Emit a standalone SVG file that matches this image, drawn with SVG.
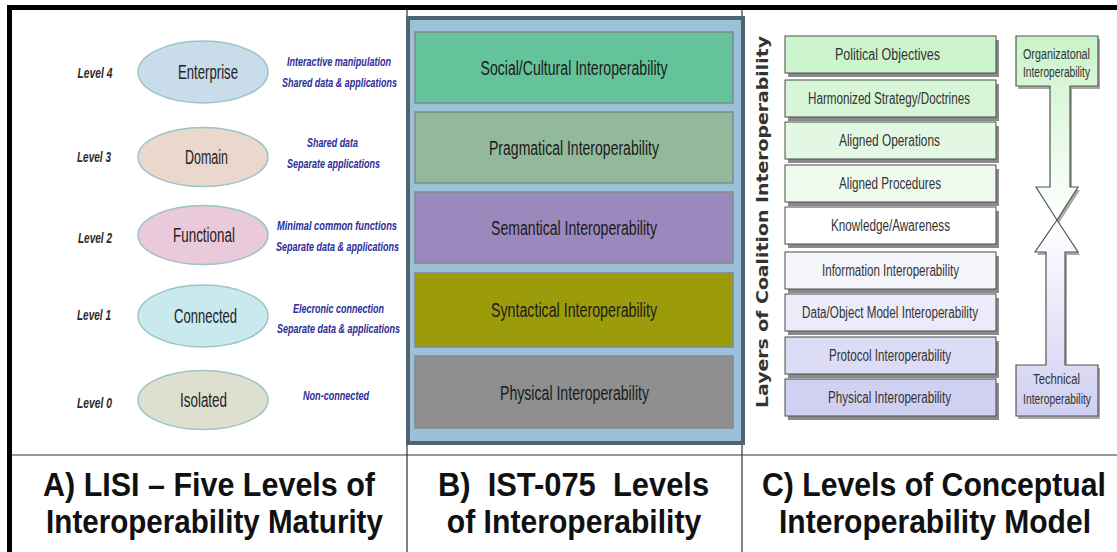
<svg xmlns="http://www.w3.org/2000/svg" width="1117" height="552" viewBox="0 0 1117 552">
  <defs>
    <linearGradient id="gOrg" x1="0" y1="0" x2="0" y2="1">
      <stop offset="0" stop-color="#c9f3c9"/>
      <stop offset="1" stop-color="#ffffff"/>
    </linearGradient>
    <linearGradient id="gTech" x1="0" y1="1" x2="0" y2="0">
      <stop offset="0" stop-color="#cfcff2"/>
      <stop offset="1" stop-color="#ffffff"/>
    </linearGradient>
  </defs>
  <style>
    .frame { stroke: #000; stroke-width: 5; fill: none; }
    .rule { stroke: #333; stroke-width: 1.2; fill: none; }
    .lvl { font-family: "Liberation Sans", Arial, sans-serif; font-size: 15px; font-weight: bold; font-style: italic; fill: #2a2a2a; text-anchor: middle; }
    .ell { stroke: #9cc4c6; stroke-width: 1.5; }
    .eltxt { font-family: "Liberation Sans", Arial, sans-serif; font-size: 20px; fill: #222; text-anchor: middle; }
    .note { font-family: "Liberation Sans", Arial, sans-serif; font-size: 13.5px; font-style: italic; font-weight: bold; fill: #2c2c96; text-anchor: middle; }
    .panel { fill: #9cc0d8; stroke: #4f6470; stroke-width: 4; }
    .band { stroke: #7d8b8b; stroke-width: 1.5; }
    .bandtxt { font-family: "Liberation Sans", Arial, sans-serif; font-size: 20px; fill: #1a1a1a; text-anchor: middle; }
    .shadow { fill: #8a8a8a; }
    .ashadow { fill: #a8a8a8; }
    .layer { stroke: #4a4a4a; stroke-width: 1; }
    .laytxt { font-family: "Liberation Sans", Arial, sans-serif; font-size: 16px; fill: #333; text-anchor: middle; }
    .side { font-family: "DejaVu Sans", Verdana, sans-serif; font-size: 15px; font-weight: bold; fill: #333; text-anchor: middle; }
    .arrow { stroke: #555; stroke-width: 1.2; }
    .arrtxt { font-family: "Liberation Sans", Arial, sans-serif; font-size: 14px; fill: #333; text-anchor: middle; }
    .cap { font-family: "Liberation Sans", Arial, sans-serif; font-size: 33px; font-weight: bold; fill: #111; text-anchor: middle; }
  </style>

  <rect width="1117" height="552" fill="#ffffff"/>

  <!-- outer frame and column rules -->
  <g id="frame">
    <path class="frame" d="M9.5 552 V7.5 H1117"/>
    <path class="rule" d="M407 10 V552 M742 10 V552"/>
    <path class="rule" d="M12 455 H1117" stroke-width="1.5"/>
  </g>

  <!-- A) LISI levels -->
  <g id="lisi">
    <g id="lisi-level4">
      <text class="lvl" x="95" y="78" textLength="35" lengthAdjust="spacingAndGlyphs">Level 4</text>
      <ellipse class="ell" cx="203" cy="72" rx="65" ry="31" fill="#c9dce9"/>
      <text class="eltxt" x="208" y="79" textLength="60" lengthAdjust="spacingAndGlyphs">Enterprise</text>
      <text class="note" x="339" y="66" textLength="104" lengthAdjust="spacingAndGlyphs">Interactive manipulation</text>
      <text class="note" x="339.5" y="87" textLength="115" lengthAdjust="spacingAndGlyphs">Shared data &amp; applications</text>
    </g>
    <g id="lisi-level3">
      <text class="lvl" x="94" y="162" textLength="34" lengthAdjust="spacingAndGlyphs">Level 3</text>
      <ellipse class="ell" cx="203" cy="157" rx="65" ry="29.5" fill="#e9d8cb"/>
      <text class="eltxt" x="206.5" y="164" textLength="43" lengthAdjust="spacingAndGlyphs">Domain</text>
      <text class="note" x="332.5" y="147" textLength="51" lengthAdjust="spacingAndGlyphs">Shared data</text>
      <text class="note" x="333.5" y="168" textLength="93" lengthAdjust="spacingAndGlyphs">Separate applications</text>
    </g>
    <g id="lisi-level2">
      <text class="lvl" x="95" y="243" textLength="34" lengthAdjust="spacingAndGlyphs">Level 2</text>
      <ellipse class="ell" cx="203" cy="235" rx="65" ry="29.5" fill="#e9c9da"/>
      <text class="eltxt" x="204" y="242" textLength="62" lengthAdjust="spacingAndGlyphs">Functional</text>
      <text class="note" x="337" y="230" textLength="120" lengthAdjust="spacingAndGlyphs">Minimal common functions</text>
      <text class="note" x="337.5" y="251" textLength="123" lengthAdjust="spacingAndGlyphs">Separate data &amp; applications</text>
    </g>
    <g id="lisi-level1">
      <text class="lvl" x="94" y="320" textLength="34" lengthAdjust="spacingAndGlyphs">Level 1</text>
      <ellipse class="ell" cx="203" cy="316" rx="65" ry="31" fill="#c9e9ee"/>
      <text class="eltxt" x="205.5" y="323" textLength="63" lengthAdjust="spacingAndGlyphs">Connected</text>
      <text class="note" x="338.5" y="313" textLength="91" lengthAdjust="spacingAndGlyphs">Elecronic connection</text>
      <text class="note" x="338.5" y="333" textLength="123" lengthAdjust="spacingAndGlyphs">Separate data &amp; applications</text>
    </g>
    <g id="lisi-level0">
      <text class="lvl" x="94.5" y="408" textLength="35" lengthAdjust="spacingAndGlyphs">Level 0</text>
      <ellipse class="ell" cx="203" cy="400" rx="65" ry="29.5" fill="#dfdfcf"/>
      <text class="eltxt" x="203.5" y="407" textLength="47" lengthAdjust="spacingAndGlyphs">Isolated</text>
      <text class="note" x="336" y="400" textLength="66" lengthAdjust="spacingAndGlyphs">Non-connected</text>
    </g>
  </g>

  <!-- B) IST-075 levels -->
  <g id="ist075">
    <rect class="panel" x="408" y="18" width="335" height="425"/>
    <g id="ist-social">
      <rect class="band" x="415" y="32" width="318" height="71" fill="#65c39b"/>
      <text class="bandtxt" x="574" y="75" textLength="187" lengthAdjust="spacingAndGlyphs">Social/Cultural Interoperability</text>
    </g>
    <g id="ist-pragmatical">
      <rect class="band" x="415" y="112" width="318" height="71" fill="#93b99b"/>
      <text class="bandtxt" x="574" y="155" textLength="170" lengthAdjust="spacingAndGlyphs">Pragmatical Interoperability</text>
    </g>
    <g id="ist-semantical">
      <rect class="band" x="415" y="192" width="318" height="71" fill="#9b88bd"/>
      <text class="bandtxt" x="574" y="235" textLength="166" lengthAdjust="spacingAndGlyphs">Semantical Interoperability</text>
    </g>
    <g id="ist-syntactical">
      <rect class="band" x="415" y="273" width="318" height="74" fill="#9c9c0b"/>
      <text class="bandtxt" x="574" y="317" textLength="166" lengthAdjust="spacingAndGlyphs">Syntactical Interoperability</text>
    </g>
    <g id="ist-physical">
      <rect class="band" x="415" y="356" width="318" height="72" fill="#8f8f8f"/>
      <text class="bandtxt" x="574.5" y="400" textLength="149" lengthAdjust="spacingAndGlyphs">Physical Interoperability</text>
    </g>
  </g>

  <!-- C) Levels of conceptual interoperability -->
  <g id="lcim">
    <text class="side" transform="translate(768 222) rotate(-90)" x="0" y="0" textLength="372" lengthAdjust="spacingAndGlyphs">Layers of Coalition Interoperability</text>

    <g id="lcim-political">
      <rect class="shadow" x="788" y="40" width="211" height="37"/>
      <rect class="layer" x="785" y="36" width="211" height="37" fill="#cdf5cd"/>
      <text class="laytxt" x="887.5" y="60" textLength="105" lengthAdjust="spacingAndGlyphs">Political Objectives</text>
    </g>
    <g id="lcim-harmonized">
      <rect class="shadow" x="788" y="84" width="211" height="37"/>
      <rect class="layer" x="785" y="80" width="211" height="37" fill="#d7f6d7"/>
      <text class="laytxt" x="889" y="104" textLength="162" lengthAdjust="spacingAndGlyphs">Harmonized Strategy/Doctrines</text>
    </g>
    <g id="lcim-operations">
      <rect class="shadow" x="788" y="126" width="211" height="37"/>
      <rect class="layer" x="785" y="122" width="211" height="37" fill="#e3f8e3"/>
      <text class="laytxt" x="889.5" y="146" textLength="101" lengthAdjust="spacingAndGlyphs">Aligned Operations</text>
    </g>
    <g id="lcim-procedures">
      <rect class="shadow" x="788" y="169" width="211" height="37"/>
      <rect class="layer" x="785" y="165" width="211" height="37" fill="#eefaee"/>
      <text class="laytxt" x="890" y="189" textLength="102" lengthAdjust="spacingAndGlyphs">Aligned Procedures</text>
    </g>
    <g id="lcim-knowledge">
      <rect class="shadow" x="788" y="211" width="211" height="37"/>
      <rect class="layer" x="785" y="207" width="211" height="37" fill="#ffffff"/>
      <text class="laytxt" x="890.5" y="231" textLength="119" lengthAdjust="spacingAndGlyphs">Knowledge/Awareness</text>
    </g>
    <g id="lcim-information">
      <rect class="shadow" x="788" y="256" width="211" height="37"/>
      <rect class="layer" x="785" y="252" width="211" height="37" fill="#f5f5fc"/>
      <text class="laytxt" x="890.5" y="276" textLength="137" lengthAdjust="spacingAndGlyphs">Information Interoperability</text>
    </g>
    <g id="lcim-dataobject">
      <rect class="shadow" x="788" y="298" width="211" height="37"/>
      <rect class="layer" x="785" y="294" width="211" height="37" fill="#ebebf9"/>
      <text class="laytxt" x="890" y="318" textLength="176" lengthAdjust="spacingAndGlyphs">Data/Object Model Interoperability</text>
    </g>
    <g id="lcim-protocol">
      <rect class="shadow" x="788" y="341" width="211" height="37"/>
      <rect class="layer" x="785" y="337" width="211" height="37" fill="#dcdcf5"/>
      <text class="laytxt" x="890" y="361" textLength="122" lengthAdjust="spacingAndGlyphs">Protocol Interoperability</text>
    </g>
    <g id="lcim-physical">
      <rect class="shadow" x="788" y="383" width="211" height="37"/>
      <rect class="layer" x="785" y="379" width="211" height="37" fill="#d0d0f2"/>
      <text class="laytxt" x="889.5" y="403" textLength="123" lengthAdjust="spacingAndGlyphs">Physical Interoperability</text>
    </g>
  </g>

  <!-- organizational / technical arrows -->
  <g id="connectors">
    <g id="arrow-organizational">
      <path class="ashadow" d="M1018 39 H1100 V89 H1072 V190 H1080 L1059 223 L1038 190 H1052 V89 H1018 Z"/>
      <path class="arrow" fill="url(#gOrg)" d="M1016 36 H1098 V86 H1070 V187 H1078 L1057 220 L1036 187 H1050 V86 H1016 Z"/>
      <text class="arrtxt" x="1056.5" y="59" textLength="67" lengthAdjust="spacingAndGlyphs">Organizatonal</text>
      <text class="arrtxt" x="1056.5" y="77" textLength="67" lengthAdjust="spacingAndGlyphs">Interoperability</text>
    </g>
    <g id="arrow-technical">
      <path class="ashadow" d="M1018 368 H1048 V255 H1037 L1059 223 L1080 255 H1067 V368 H1100 V419 H1018 Z"/>
      <path class="arrow" fill="url(#gTech)" d="M1016 365 H1046 V252 H1035 L1057 220 L1078 252 H1065 V365 H1098 V416 H1016 Z"/>
      <text class="arrtxt" x="1056.5" y="384" textLength="47" lengthAdjust="spacingAndGlyphs">Technical</text>
      <text class="arrtxt" x="1057" y="404" textLength="68" lengthAdjust="spacingAndGlyphs">Interoperability</text>
    </g>
  </g>

  <!-- captions: bold type narrowed horizontally -->
  <g id="captions">
    <text class="cap" transform="translate(209 496) scale(0.8 1)" textLength="415" lengthAdjust="spacingAndGlyphs">A) LISI – Five Levels of</text>
    <text class="cap" transform="translate(214.5 533) scale(0.8 1)" textLength="421" lengthAdjust="spacingAndGlyphs">Interoperability Maturity</text>
    <text class="cap" transform="translate(573.5 496) scale(0.8 1)" textLength="339" lengthAdjust="spacingAndGlyphs" xml:space="preserve">B)  IST-075  Levels</text>
    <text class="cap" transform="translate(574 533) scale(0.8 1)" textLength="318" lengthAdjust="spacingAndGlyphs">of Interoperability</text>
    <text class="cap" transform="translate(934 496) scale(0.8 1)" textLength="430" lengthAdjust="spacingAndGlyphs">C) Levels of Conceptual</text>
    <text class="cap" transform="translate(935 533) scale(0.8 1)" textLength="390" lengthAdjust="spacingAndGlyphs">Interoperability Model</text>
  </g>
</svg>
